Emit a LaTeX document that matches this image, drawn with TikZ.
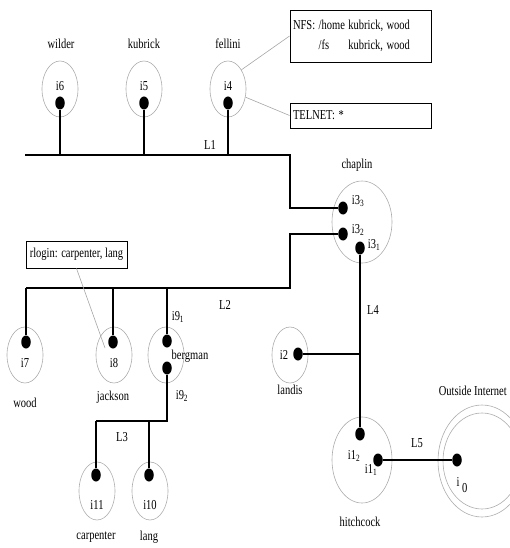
\documentclass[tikz,border=0pt]{standalone}
\usepackage{fontspec}
\setmainfont{Liberation Serif}
\usetikzlibrary{shapes.geometric}
\newcommand{\vs}[1]{\scalebox{1}[1.3]{#1}}
\newcommand{\sbs}[1]{\textsubscript{#1}}
\begin{document}
\begin{tikzpicture}[x=1pt,y=-1pt,
 host/.style={draw=gray!65, line width=0.6pt, ellipse, inner sep=0pt, minimum width=36pt, minimum height=56pt},
 bighost/.style={host, minimum width=60pt, minimum height=82pt},
 dot/.style={fill=black, ellipse, inner sep=0pt, minimum width=9.5pt, minimum height=13pt},
 lbl/.style={inner sep=0pt, font=\fontsize{10.5}{12}\selectfont},
 bus/.style={line width=1.2pt},
 annot/.style={draw=gray!70, line width=0.6pt},
 box/.style={draw, line width=0.9pt, inner xsep=3pt, inner ysep=0pt, font=\fontsize{10.5}{12}\selectfont, text width=135pt, align=left}
]
\useasboundingbox (0,0) rectangle (509,548);

% ---- top hosts
\node[host] (c6) at (60,89) {};
\node[host] (c5) at (144,89) {};
\node[host] (c4) at (228,89) {};
\node[lbl] (n6) at (61,44) {\vs{wilder}};
\node[lbl] (n5) at (144,44) {\vs{kubrick}};
\node[lbl] (n4) at (228,44) {\vs{fellini}};
\node[lbl] (t6) at (60,86) {\vs{i6}};
\node[lbl] (t5) at (144,86) {\vs{i5}};
\node[lbl] (t4) at (228,86) {\vs{i4}};
\node[dot] (di6) at (60,103) {};
\node[dot] (di5) at (144,103) {};
\node[dot] (di4) at (228,103) {};

% ---- boxes
\node[box, minimum height=52pt] (nfs) at (360.5,36) {\vs{\begin{tabular}{@{}l@{\ }l@{\ }l@{}}NFS: & /home & kubrick, wood\\[3.4pt] & /fs & kubrick, wood\end{tabular}}};
\node[box, minimum height=25pt] (tel) at (360.5,115.5) {\vs{TELNET: *}};
\node[draw, line width=0.9pt, inner sep=0pt, minimum width=101pt, minimum height=27pt, font=\fontsize{10.5}{12}\selectfont] (rlog) at (76.5,254.5) {\vs{rlogin: carpenter, lang}};

% ---- chaplin
\node[bighost] (c3) at (362,222) {};
\node[lbl] (n3) at (357,165) {\vs{chaplin}};
\node[dot] (di33) at (343,208) {};
\node[dot] (di32) at (343,234) {};
\node[dot] (di31) at (360,248) {};
\node[lbl] (t33) at (358,201) {\vs{i3\sbs{3}}};
\node[lbl] (t32) at (358,230) {\vs{i3\sbs{2}}};
\node[lbl] (t31) at (374,245) {\vs{i3\sbs{1}}};

% ---- L2 hosts
\node[host] (c7) at (25,355) {};
\node[host] (c8) at (114,355) {};
\node[host] (c9) at (166,355) {};
\node[dot] (di7) at (26,342) {};
\node[dot] (di8) at (113,342) {};
\node[dot] (di91) at (167,341) {};
\node[dot] (di92) at (167,368) {};
\node[lbl] (t7) at (25,363) {\vs{i7}};
\node[lbl] (t8) at (114,363) {\vs{i8}};
\node[lbl] (n7) at (25,403) {\vs{wood}};
\node[lbl] (n8) at (113,397) {\vs{jackson}};
\node[lbl] (n9) at (190,356) {\vs{bergman}};
\node[lbl] (t91) at (178,317) {\vs{i9\sbs{1}}};
\node[lbl] (t92) at (182,396) {\vs{i9\sbs{2}}};

% ---- L3 hosts
\node[host, minimum height=58pt] (c11) at (97,491) {};
\node[host, minimum height=58pt] (c10) at (150,491) {};
\node[dot] (di11) at (96,475) {};
\node[dot] (di10) at (149,475) {};
\node[lbl] (t11) at (97,505) {\vs{i11}};
\node[lbl] (t10) at (150,505) {\vs{i10}};
\node[lbl] (n11) at (96,537) {\vs{carpenter}};
\node[lbl] (n10) at (149,537) {\vs{lang}};

% ---- landis
\node[host] (c2) at (290,355) {};
\node[dot] (di2) at (298,354) {};
\node[lbl] (t2) at (284,355) {\vs{i2}};
\node[lbl] (n2) at (290,390) {\vs{landis}};

% ---- hitchcock
\node[bighost, minimum height=86pt] (c1) at (362,460) {};
\node[dot] (hB) at (360,434) {};
\node[dot] (hA) at (378,460) {};
\node[lbl] (tB) at (354,456) {\vs{i1\sbs{2}}};
\node[lbl] (tA) at (371,470) {\vs{i1\sbs{1}}};
\node[lbl] (n1) at (360,522) {\vs{hitchcock}};

% ---- outside internet
\node[host, minimum width=88pt, minimum height=112pt] (oo) at (482,461) {};
\node[host, minimum width=78pt, minimum height=96pt] (oi) at (482,461) {};
\node[dot] (d0) at (457,460) {};
\node[lbl] (t0) at (462,485) {\vs{i\hspace{2.5pt}\raisebox{-4pt}{0}}};
\node[lbl, anchor=east] (n0) at (507,391) {\vs{Outside Internet}};

% ---- bus labels
\node[lbl] (lL1) at (210,145) {\vs{L1}};
\node[lbl] (lL2) at (225,305) {\vs{L2}};
\node[lbl] (lL3) at (122,437) {\vs{L3}};
\node[lbl] (lL4) at (373,310) {\vs{L4}};
\node[lbl] (lL5) at (417,443) {\vs{L5}};

% ---- L1
\coordinate (L1a) at (25,155);
\coordinate (L1b) at (290,155);
\draw[bus] (L1a) -- (L1b) |- (di33);
\draw[bus] (di6) -- (di6 |- L1a);
\draw[bus] (di5) -- (di5 |- L1a);
\draw[bus] (di4) -- (di4 |- L1a);

% ---- L2
\coordinate (L2b) at (290,288);
\coordinate (L2a) at (26,288);
\draw[bus] (di32) -| (L2b) -- (L2a);
\draw[bus] (di7) -- (di7 |- L2a);
\draw[bus] (di8) -- (di8 |- L2a);
\draw[bus] (di91) -- (di91 |- L2a);

% ---- L3
\coordinate (L3a) at (96,421);
\draw[bus] (di92) |- (L3a);
\draw[bus] (di11) -- (di11 |- L3a);
\draw[bus] (di10) -- (di10 |- L3a);

% ---- L4, L5
\draw[bus] (di31) -- (hB);
\draw[bus] (di2) -- (di2 -| di31);
\draw[bus] (hA) -- (d0);

% ---- annotations
\coordinate (a3) at (105,348);
\draw[annot] (c4.55) -- (nfs.west);
\draw[annot] (c4.-25) -- (tel.west);
\draw[annot] (rlog.south) -- (a3);
\end{tikzpicture}
\end{document}
